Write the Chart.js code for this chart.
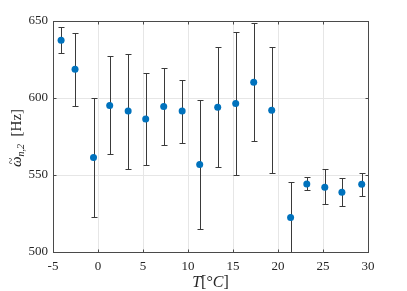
<!DOCTYPE html>
<html><head><meta charset="utf-8">
<script src="https://cdn.jsdelivr.net/npm/chart.js@4"></script>
<style>html,body{margin:0;padding:0;background:#fff}#wrap{width:407px;height:291px}</style>
</head><body><div id="wrap"><canvas id="c" width="407" height="291"></canvas></div>
<script>
const temps = [-4.1,-2.55,-0.5,1.3,3.35,5.3,7.3,9.35,11.3,13.3,15.3,17.3,19.3,21.4,23.2,25.2,27.1,29.3];
const freq  = [637.5,618.6,561.4,595.2,591.5,586.3,594.5,591.5,556.8,594,596.5,610.3,592.1,522.4,544.2,542,538.8,544];
const upper = [646,642,600,627,628.5,616.5,619.8,612,599,632.8,642.8,648.5,633.2,545.2,549,553.6,548.2,551.6];
const lower = [629,595,522.8,563.7,554.2,556.2,569.2,570.5,515,555.5,550.3,572.4,551,495,540,531,529.7,536.2];
const xTicks = [-5,0,5,10,15,20,25,30];
const yTicks = [500,550,600,650];

const serif = "'Liberation Serif','DejaVu Serif',serif";
const axisColor = '#262626';

const errPlugin = {
  id:'err',
  beforeDatasetsDraw(chart){
    const {ctx, scales:{x,y}, chartArea:a} = chart;
    ctx.save();
    ctx.beginPath(); ctx.rect(a.left,a.top,a.right-a.left,a.bottom-a.top); ctx.clip();
    ctx.strokeStyle='#3a3a3a'; ctx.lineWidth=1;
    for(let i=0;i<temps.length;i++){
      const px=Math.round(x.getPixelForValue(temps[i]))+0.5;
      const pt=Math.round(y.getPixelForValue(upper[i]))+0.5;
      const pb=Math.round(y.getPixelForValue(lower[i]))+0.5;
      ctx.beginPath();
      ctx.moveTo(px,pt); ctx.lineTo(px,pb);
      ctx.moveTo(px-3,pt); ctx.lineTo(px+3,pt);
      ctx.moveTo(px-3,pb); ctx.lineTo(px+3,pb);
      ctx.stroke();
    }
    ctx.restore();
  },
  afterDraw(chart){
    const {ctx, scales:{x,y}, chartArea:a} = chart;
    ctx.save();
    ctx.strokeStyle='#4a4a4a'; ctx.lineWidth=1;
    const L=a.left+0.5, R=Math.round(a.right)+0.5, T=a.top+0.5, B=Math.round(a.bottom)+0.5;
    ctx.strokeRect(L,T,R-L,B-T);
    ctx.beginPath();
    xTicks.forEach(v=>{const p=Math.round(x.getPixelForValue(v))+0.5;ctx.moveTo(p,B);ctx.lineTo(p,B-3);ctx.moveTo(p,T);ctx.lineTo(p,T+3);});
    yTicks.forEach(v=>{const p=Math.round(y.getPixelForValue(v))+0.5;ctx.moveTo(L,p);ctx.lineTo(L+3,p);ctx.moveTo(R,p);ctx.lineTo(R-3,p);});
    ctx.stroke();
    // x title
    ctx.fillStyle=axisColor; ctx.textBaseline='alphabetic';
    const parts=[['italic 16px '+serif,'T'],['16px '+serif,'[°'],['italic 16px '+serif,'C'],['16px '+serif,']']];
    let w=0; parts.forEach(p=>{ctx.font=p[0]; w+=ctx.measureText(p[1]).width;});
    let cx=(a.left+a.right)/2-w/2; const by=287;
    parts.forEach(p=>{ctx.font=p[0]; ctx.fillText(p[1],cx,by); cx+=ctx.measureText(p[1]).width;});
    // y title
    ctx.translate(21,138); ctx.rotate(-Math.PI/2);
    const yp=[['italic 15px '+serif,'ω',0],['italic 10px '+serif,'n,2',3],['15px '+serif,'  [Hz]',0]];
    w=0; yp.forEach(p=>{ctx.font=p[0]; w+=ctx.measureText(p[1]).width;});
    cx=-w/2;
    yp.forEach((p,i)=>{ctx.font=p[0]; ctx.fillText(p[1],cx,p[2]);
      if(i===0){ctx.font='12px '+serif; const ww=ctx.measureText('ω').width*1.25; ctx.fillText('~',cx+ww/2-ctx.measureText('~').width/2+1,-6);}
      ctx.font=p[0]; cx+=ctx.measureText(p[1]).width;});
    ctx.restore();
  }
};

new Chart(document.getElementById('c'),{
  type:'scatter',
  data:{datasets:[{data:temps.map((t,i)=>({x:t,y:freq[i]})),backgroundColor:'#0072BD',borderColor:'#0072BD',pointRadius:3.5,pointHoverRadius:3.5,borderWidth:0}]},
  options:{
    responsive:false,animation:false,
    layout:{padding:{top:21,right:39,left:0,bottom:0}},
    plugins:{legend:{display:false},tooltip:{enabled:false}},
    scales:{
      x:{type:'linear',min:-5,max:30,
        afterBuildTicks(s){s.ticks=xTicks.map(v=>({value:v}));},
        afterFit(s){s.height=39;},
        grid:{color:'#e6e6e6',drawTicks:false},border:{display:false},
        ticks:{padding:7,font:{family:serif,size:13},color:axisColor,maxRotation:0,callback:v=>String(v)}},
      y:{min:500,max:650,
        afterBuildTicks(s){s.ticks=yTicks.map(v=>({value:v}));},
        afterFit(s){s.width=53;},
        grid:{color:'#e6e6e6',drawTicks:false},border:{display:false},
        ticks:{padding:5,font:{family:serif,size:13},color:axisColor,callback:v=>String(v)}}
    }
  },
  plugins:[errPlugin]
});
</script></body></html>
